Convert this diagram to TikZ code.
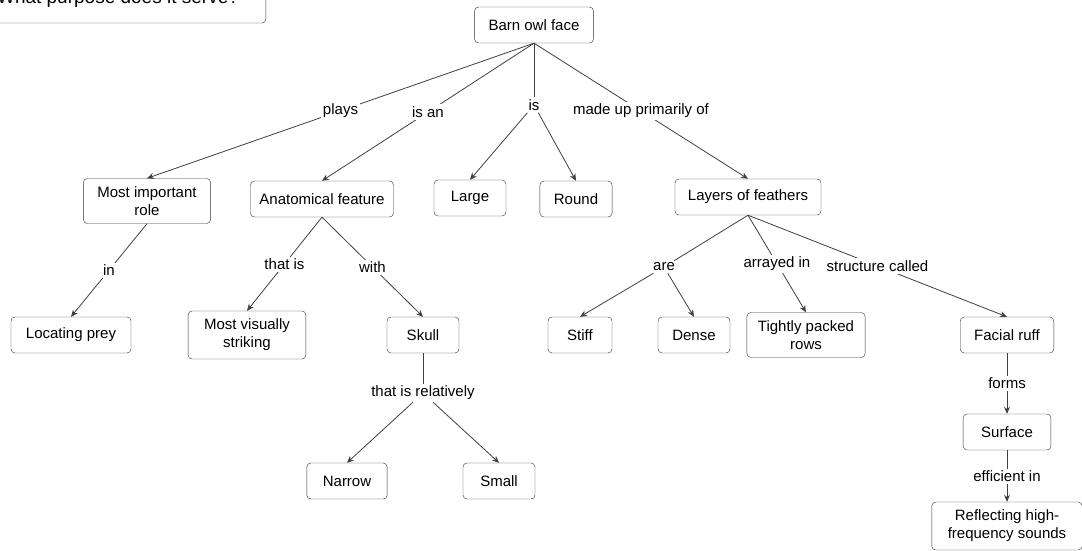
\documentclass[tikz,border=0pt]{standalone}
\usepackage{fontspec}
\setmainfont{Liberation Sans}
\usetikzlibrary{arrows.meta}

\tikzset{
  concept/.style={draw=black!80, rounded corners=4pt, fill=white, align=center,
    font=\fontsize{15}{18}\selectfont, inner xsep=14pt, inner ysep=8pt,
    minimum height=36pt, minimum width=72pt},
  linkline/.style={draw=black!75, line width=0.8pt},
  link/.style={linkline, -{Stealth[length=7pt,width=6pt]}},
  lbl/.style={fill=white, inner sep=2pt, font=\fontsize{15}{18}\selectfont}
}

\begin{document}
\begin{tikzpicture}[x=1pt,y=-1pt]

\useasboundingbox (0,0) rectangle (1082,550);
\fill[white] (0,0) rectangle (1082,550);
\clip (0,0) rectangle (1082,550);

% focus question
\node[concept, font=\fontsize{19}{23}\selectfont, inner xsep=27pt, minimum height=48pt] (question) at (118,-1) {What purpose does it serve?};

% top
\node[concept] (face) at (534,25) {Barn owl face};

% second row
\node[concept] (role) at (147,201) {Most important\\role};
\node[concept, inner xsep=9pt] (anat) at (322,199) {Anatomical feature};
\node[concept] (large) at (470,198) {Large};
\node[concept] (round) at (576,199) {Round};
\node[concept, inner xsep=13pt] (layers) at (748,197) {Layers of feathers};

% third row
\node[concept, inner xsep=15pt] (prey) at (71,335) {Locating prey};
\node[concept, inner xsep=16pt] (striking) at (247,335) {Most visually\\striking};
\node[concept] (skull) at (423,335) {Skull};
\node[concept, minimum width=64pt] (stiff) at (580,335) {Stiff};
\node[concept] (dense) at (694,335) {Dense};
\node[concept, inner xsep=11pt] (rows) at (806,335) {Tightly packed\\rows};
\node[concept] (ruff) at (1007,335) {Facial ruff};

% bottom
\node[concept, inner xsep=16pt] (narrow) at (347,481) {Narrow};
\node[concept] (small) at (499,481) {Small};
\node[concept, inner xsep=18pt] (surface) at (1007,432) {Surface};
\node[concept, inner xsep=16pt, minimum height=46pt] (sounds) at (1007,526) {Reflecting high-\\frequency sounds};

% shared link words
\node[lbl] (is) at (534,105) {is};
\node[lbl] (are) at (664,267) {are};
\node[lbl] (rel) at (423,393) {that is relatively};

% links from the top
\draw[link] (face.south) -- node[lbl] {plays} (role.north);
\draw[link] (face.south) -- node[lbl] {is an} (anat.north);
\draw[linkline] (face.south) -- (is);
\draw[link] (is) -- (large.north);
\draw[link] (is) -- (round.north);
\draw[link] (face.south) -- node[lbl] {made up primarily of} (layers.north);

% left side
\draw[link] (role.south) -- node[lbl] {in} (prey.north);
\draw[link] (anat.south) -- node[lbl] {that is} (striking.north);
\draw[link] (anat.south) -- node[lbl] {with} (skull.north);
\draw[linkline] (skull.south) -- (rel);
\draw[link] (rel) -- (narrow.north);
\draw[link] (rel) -- (small.north);

% right side
\draw[linkline] (layers.south) -- (are);
\draw[link] (are) -- (stiff.north);
\draw[link] (are) -- (dense.north);
\draw[link] (layers.south) -- node[lbl] {arrayed in} (rows.north);
\draw[link] (layers.south) -- node[lbl] {structure called} (ruff.north);
\draw[link] (ruff) -- node[lbl] {forms} (surface);
\draw[link] (surface) -- node[lbl] {efficient in} (sounds);

\end{tikzpicture}
\end{document}
